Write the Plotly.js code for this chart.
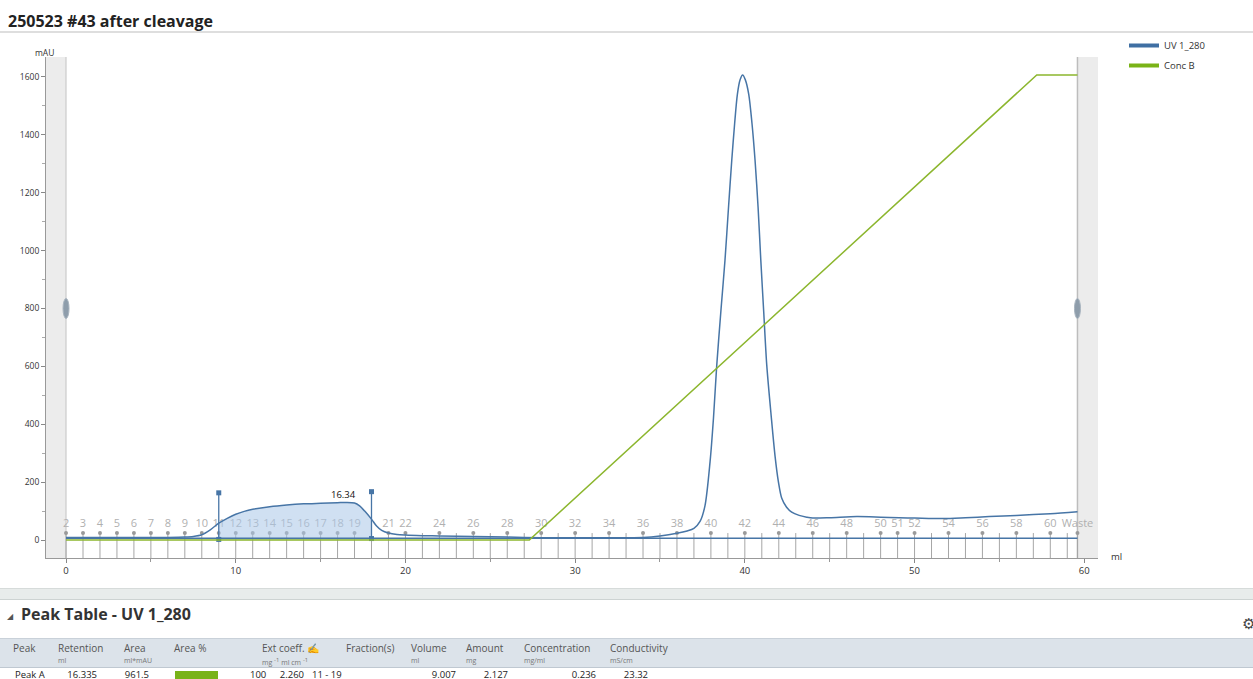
<!DOCTYPE html>
<html>
<head>
<meta charset="utf-8">
<script src="https://cdn.plot.ly/plotly-3.0.1.min.js"></script>
<style>
  html, body { margin:0; padding:0; background:#fff; overflow:hidden; width:1253px; height:679px; font-family:"Open Sans","Noto Sans",sans-serif; }
  #chart { position:absolute; left:0; top:0; width:1253px; height:590px; }
  .abs { position:absolute; white-space:nowrap; }
  .hd { font-size:10px; color:#555; }
  .un { font-size:7px; color:#777; }
  .rw { font-size:9.5px; color:#222; }
</style>
</head>
<body>
<div id="chart"></div>

<div class="abs" style="left:0;top:588px;width:1253px;height:10px;background:#e8eceb;border-top:1px solid #d6dbda;border-bottom:1px solid #cdd3d2;"></div>
<div class="abs" style="left:7px;top:610px;font-size:8px;color:#555;">&#9698;</div>
<div class="abs" style="left:21px;top:603px;font-size:16px;font-weight:bold;color:#333;">Peak Table - UV 1_280</div>
<div class="abs" style="left:1242px;top:613px;font-size:15px;color:#444;">&#9881;</div>
<div class="abs" style="left:0;top:638px;width:1253px;height:28px;background:#dce3ea;border-top:1px solid #c9d1d9;border-bottom:1px solid #bfc8d1;"></div>
<div id="table"></div>

<script>
// ---------------- data ----------------
const uvX = [0,2,4,6,7,7.5,8,8.5,9,9.5,10,10.5,11,12,13,14,15,16,16.5,17,17.3,17.6,18,18.3,18.6,19,19.5,20,21,22,24,26,28,30,32,34,35,36,36.6,37,37.36,37.65,37.95,38.15,38.34,38.6,38.83,39.05,39.23,39.4,39.56,39.72,39.87,40.03,40.23,40.42,40.6,40.78,40.94,41.12,41.29,41.55,41.78,41.98,42.17,42.45,42.76,43.2,43.65,44,45,46.6,48,49.1,50,51.7,53,54.4,56,58,59.6];
const uvY = [9,9,9,9,10,12,18,35,58,75,89,99,106,115,121,125,127,129,130,128,118,100,72,48,33,24,19,17,15,14,12,10,8,8,8,9,14,23,31,40,64,118,270,420,600,800,967,1160,1313,1440,1540,1590,1607,1590,1540,1440,1313,1150,967,780,605,430,290,200,145,114,96,85,79,76,77,81,79,77,76,74,77,81,85,91,98];

const concX = [0, 27.3, 57.2, 59.6];
const concY = [0, 0, 100, 100];   // % B

const baseX = [0, 59.6];
const baseY = [6, 6];

const fracPos = [0,1,2,3,4,5,6,7,8,9,10,11,12,13,14,15,16,17,18,19,20,21,22,23,24,25,26,27,28,29,30,31,32,33,34,35,36,37,38,39,40,41,42,43,44,45,46,47,48,49,50,51,52,53,54,55,56,57,58,59,59.6];
const fracLabelPos = [0,1,2,3,4,5,6,7,8,9,10,11,12,13,14,15,16,17,19,20,22,24,26,28,30,32,34,36,38,40,42,44,46,48,49,50,52,54,56,58,59.6];
const fracLabels = ['2','3','4','5','6','7','8','9','10','11','12','13','14','15','16','17','18','19','21','22','24','26','28','30','32','34','36','38','40','42','44','46','48','50','51','52','54','56','58','60','Waste'];

const peakStart = 9, peakEnd = 18;
const peakMarkTop = [163, 167];
const peakMarkBottom = [2, 5];
const peakRetention = 16.34;
const peakLabelY = 128;

const xTickVals = [0,10,20,30,40,50,60];
const yTickVals = [0,200,400,600,800,1000,1200,1400,1600];

const tableHeaders = [
  {t:'Peak', u:'', x:13},
  {t:'Retention', u:'ml', x:58},
  {t:'Area', u:'ml*mAU', x:124},
  {t:'Area %', u:'', x:174},
  {t:'Ext coeff. \u270D', u:'mg <sup>-1</sup> ml cm <sup>-1</sup>', x:262},
  {t:'Fraction(s)', u:'', x:346},
  {t:'Volume', u:'ml', x:411},
  {t:'Amount', u:'mg', x:466},
  {t:'Concentration', u:'mg/ml', x:524},
  {t:'Conductivity', u:'mS/cm', x:610}
];
const tableRow = [
  {t:'Peak A', x:15, a:'left'},
  {t:'16.335', x:97, a:'right'},
  {t:'961.5', x:149, a:'right'},
  {t:'100', x:250, a:'left'},
  {t:'2.260', x:304, a:'right'},
  {t:'11 - 19', x:312, a:'left'},
  {t:'9.007', x:456, a:'right'},
  {t:'2.127', x:508, a:'right'},
  {t:'0.236', x:596, a:'right'},
  {t:'23.32', x:648, a:'right'}
];
const areaPct = 100;

// ---------------- chart ----------------
const UV = '#4775a6', GREEN = '#8cb62e';
const yMin = -62.2, yMax = 1669;
const concScale = 16.07; // 100 % B drawn at 1607 mAU

const fx = [], fy = [];
fracPos.forEach(p => { fx.push(p, p, null); fy.push(24, yMin, null); });

const peakIdx = uvX.map((v,i)=>i).filter(i => uvX[i] >= peakStart && uvX[i] <= peakEnd);

const traces = [
  {x: fx, y: fy, mode:'lines', line:{color:'#a6a6a6', width:1}, hoverinfo:'skip', showlegend:false},
  {x: fracLabelPos, y: fracLabelPos.map(()=>24), mode:'markers', marker:{color:'#9a9a9a', size:4}, hoverinfo:'skip', showlegend:false},
  {x: fracLabelPos, y: fracLabelPos.map(()=>55), mode:'text', text: fracLabels, textfont:{color:'#b0b0b0', size:11, family:'Open Sans'}, hoverinfo:'skip', showlegend:false},
  {x: peakIdx.map(i=>uvX[i]), y: peakIdx.map(i=>uvY[i]), mode:'lines', line:{width:0, shape:'spline', smoothing:0.8}, fill:'tozeroy', fillcolor:'rgba(170,198,232,0.55)', hoverinfo:'skip', showlegend:false},
  {x: baseX, y: baseY, mode:'lines', line:{color:UV, width:1.3}, hoverinfo:'skip', showlegend:false},
  {x: concX, y: concY, yaxis:'y2', mode:'lines', line:{color:GREEN, width:1.5}, name:'Conc B', showlegend:false},
  {x: uvX, y: uvY, mode:'lines', line:{color:UV, width:1.5, shape:'spline', smoothing:0.8}, name:'UV 1_280', showlegend:false},
  {x: [peakStart, peakStart], y: [peakMarkBottom[0], peakMarkTop[0]], mode:'lines+markers', line:{color:UV, width:1.3}, marker:{color:UV, size:5, symbol:'square'}, hoverinfo:'skip', showlegend:false},
  {x: [peakEnd, peakEnd], y: [peakMarkBottom[1], peakMarkTop[1]], mode:'lines+markers', line:{color:UV, width:1.3}, marker:{color:UV, size:5, symbol:'square'}, hoverinfo:'skip', showlegend:false},
  // legend entries
  {x:[null], y:[null], mode:'lines', line:{color:'#3f6fa3', width:4}, name:'UV 1_280', legendgroup:'a'},
  {x:[null], y:[null], mode:'lines', line:{color:'#7ab317', width:4}, name:'Conc B', legendgroup:'b'}
];

const L = 46, R = 1098, T = 57, B = 558, W = 1253, H = 590;
const pw = R - L, ph = B - T;
const px = v => (v - L) / pw;
const py = v => (B - v) / ph;

const layout = {
  width: W, height: H,
  margin: {l: L, r: W - R, t: T, b: H - B, pad: 0},
  paper_bgcolor:'#fff', plot_bgcolor:'#fff',
  font: {family:'Open Sans, Noto Sans, sans-serif', color:'#333', size:9},
  title: {text:'<b>250523 #43 after cleavage</b>', font:{size:16, color:'#222'}, xref:'container', yref:'container', x: 8/W, xanchor:'left', y: 1 - 21/H, yanchor:'middle'},
  showlegend: true,
  legend: {x: px(1124), y: py(31), xanchor:'left', yanchor:'top', font:{size:9.5, color:'#333'}, bgcolor:'rgba(0,0,0,0)', tracegroupgap:1, traceorder:'grouped', itemwidth:30},
  xaxis: {range:[-1.18, 60.81], tickvals:xTickVals, ticks:'outside', ticklen:4, tickcolor:'#888', showline:true, linecolor:'#999', linewidth:1, showgrid:false, zeroline:false, tickfont:{size:9.5, color:'#333'},
          minor:{dtick:5, tick0:0, ticks:'outside', ticklen:3, tickcolor:'#999', showgrid:false}},
  yaxis: {range:[yMin, yMax], tickvals:yTickVals, ticks:'outside', ticklen:4, tickcolor:'#888', showline:true, linecolor:'#999', linewidth:1, showgrid:false, zeroline:false, tickfont:{size:8.5, color:'#333'},
          minor:{dtick:100, tick0:0, ticks:'outside', ticklen:3, tickcolor:'#aaa', showgrid:false}},
  yaxis2: {overlaying:'y', range:[yMin/concScale, yMax/concScale], visible:false, showgrid:false, zeroline:false},
  shapes: [
    {type:'rect', xref:'paper', yref:'paper', x0:0, x1:px(66), y0:0, y1:1, fillcolor:'#ececec', line:{width:0}, layer:'below'},
    {type:'line', xref:'x', yref:'paper', x0:0, x1:0, y0:0, y1:1, line:{color:'#c4c4c4', width:1}, layer:'below'},
    {type:'rect', xref:'x', yref:'paper', x0:fracPos[fracPos.length-1], x1:60.81, y0:0, y1:1, fillcolor:'#ececec', line:{width:0}, layer:'below'},
    {type:'line', xref:'x', yref:'paper', x0:fracPos[fracPos.length-1], x1:fracPos[fracPos.length-1], y0:0, y1:1, line:{color:'#bdbdbd', width:1.5}, layer:'below'},
    {type:'circle', xref:'x', yref:'y', xsizemode:'pixel', ysizemode:'pixel', xanchor:0, yanchor:800, x0:-3, x1:3, y0:-10, y1:10, fillcolor:'#8e9dab', line:{color:'#a9b5c0', width:1}},
    {type:'circle', xref:'x', yref:'y', xsizemode:'pixel', ysizemode:'pixel', xanchor:fracPos[fracPos.length-1], yanchor:800, x0:-3, x1:3, y0:-10, y1:10, fillcolor:'#8e9dab', line:{color:'#a9b5c0', width:1}},
    {type:'line', xref:'paper', yref:'paper', x0:px(0), x1:px(W), y0:py(32), y1:py(32), line:{color:'#bdbdbd', width:1}}
  ],
  annotations: [
    {x: peakRetention, y: peakLabelY, xref:'x', yref:'y', text: peakRetention.toFixed(2), showarrow:false, yanchor:'bottom', font:{size:9.5, color:'#111'}},
    {x: px(33), y: py(45), xref:'paper', yref:'paper', text:'mAU', showarrow:false, font:{size:8.5, color:'#333'}},
    {x: px(1109), y: py(565), xref:'paper', yref:'paper', text:'ml', showarrow:false, xanchor:'left', font:{size:9.5, color:'#333'}}
  ]
};

Plotly.newPlot('chart', traces, layout, {staticPlot:true, displayModeBar:false});

// ---------------- table ----------------
const tbl = document.getElementById('table');
let html = '';
tableHeaders.forEach(h => {
  html += `<div class="abs hd" style="left:${h.x}px;top:641px;">${h.t}</div>`;
  if (h.u) html += `<div class="abs un" style="left:${h.x}px;top:656px;">${h.u}</div>`;
});
tableRow.forEach(c => {
  if (c.a === 'right') html += `<div class="abs rw" style="right:${1253 - c.x}px;top:668px;">${c.t}</div>`;
  else html += `<div class="abs rw" style="left:${c.x}px;top:668px;">${c.t}</div>`;
});
html += `<div class="abs" style="left:175px;top:671px;width:${43 * areaPct / 100}px;height:9px;background:#79b31a;"></div>`;
tbl.innerHTML = html;
</script>
</body>
</html>
